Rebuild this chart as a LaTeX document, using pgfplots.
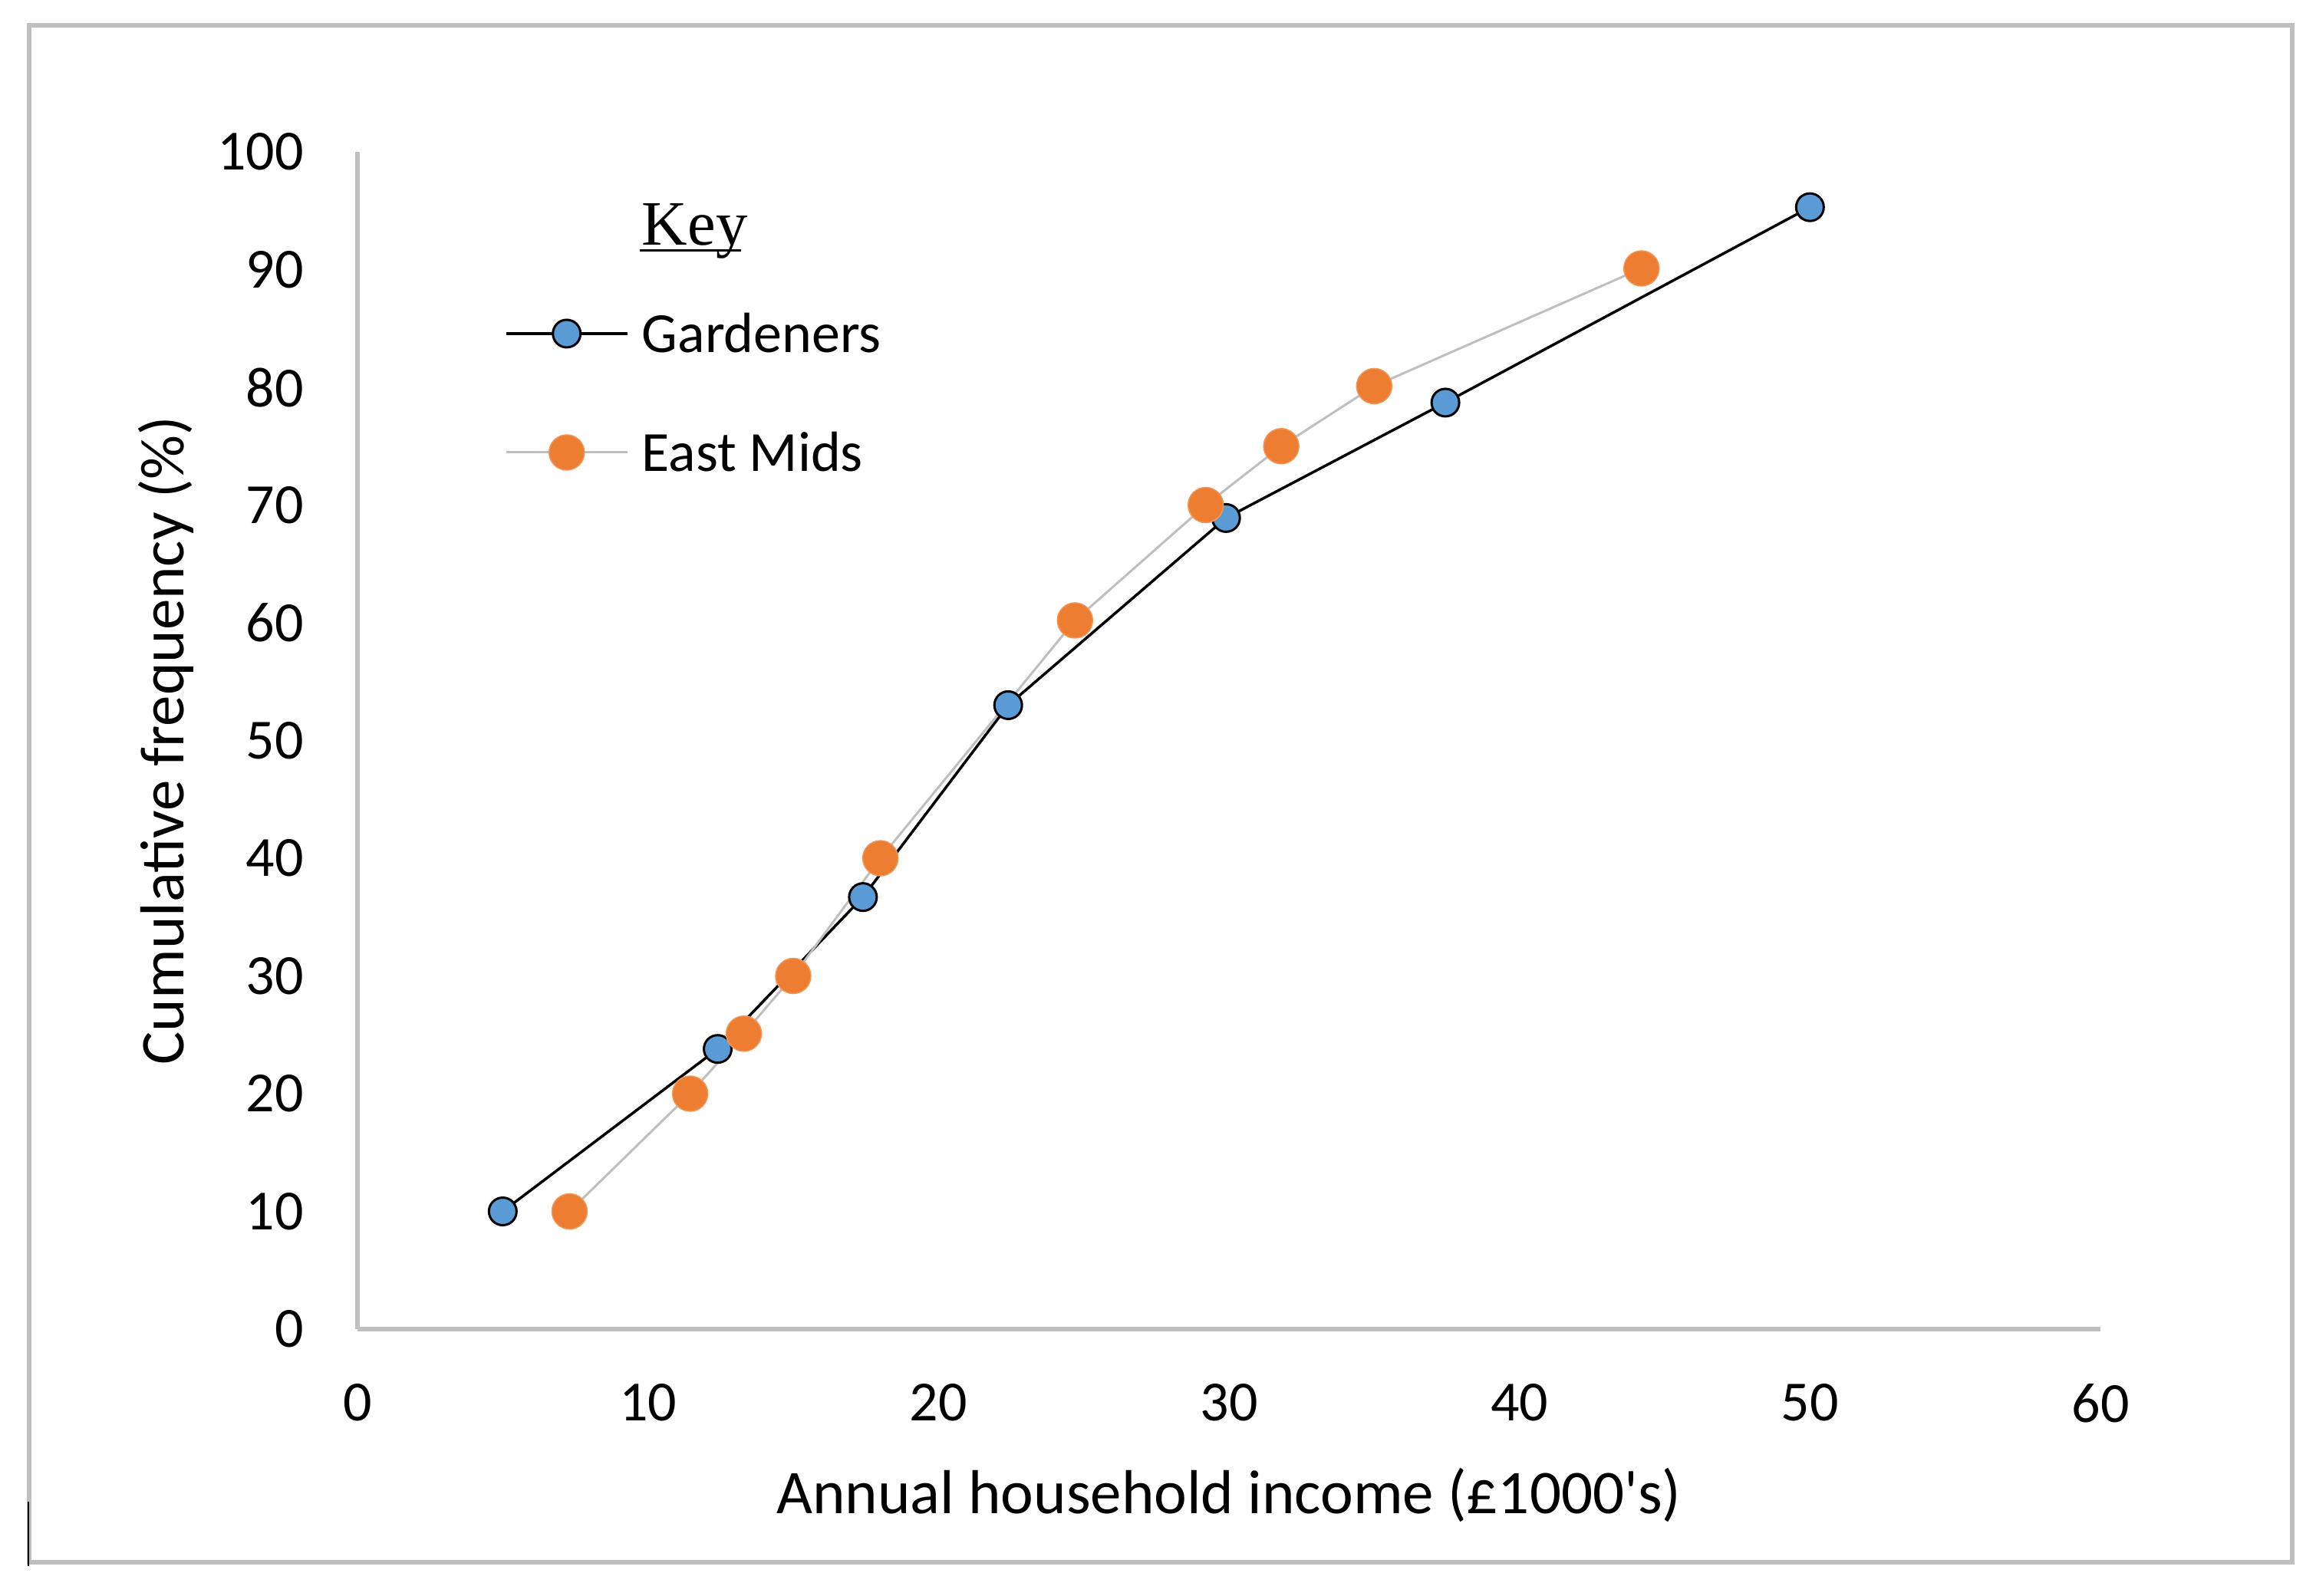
\documentclass[border=0pt]{standalone}
\usepackage{pgfplots}
\pgfplotsset{compat=1.18}
\usepackage{fontspec}
\setmainfont{Carlito}
\newfontfamily\keyfont{Liberation Serif}
\definecolor{gblue}{HTML}{5B9BD5}
\definecolor{eorange}{HTML}{ED7D31}
\definecolor{lgray}{HTML}{BFBFBF}
\newcommand\lblfont{\fontsize{14.8}{17}\selectfont}
\newcommand\ttlfont{\fontsize{16.2}{19}\selectfont}
\begin{document}
\begin{tikzpicture}
\path (-93.2pt,-69.4pt) rectangle (510.6pt,346.6pt);
\begin{axis}[
  at={(0pt,0pt)}, anchor=south west,
  scale only axis, width=454.4pt, height=307pt,
  xmin=0, xmax=60, ymin=0, ymax=100,
  xtick={0,10,...,60}, ytick={0,10,...,100},
  axis x line*=bottom, axis y line*=left,
  every inner x axis line/.append style={-},
  every inner y axis line/.append style={-},
  every outer x axis line/.append style={-},
  every outer y axis line/.append style={-},
  axis line style={draw=lgray, line width=1.2pt, -},
  major tick length=0pt,
  /pgf/number format/assume math mode=true,
  ticklabel style={font=\lblfont, text=black},
  xticklabel style={anchor=north, inner sep=0pt, yshift=-14pt},
  yticklabel style={anchor=east, inner sep=0pt, xshift=-13.8pt},
  xlabel={Annual household income (£1000\textquotesingle s)},
  ylabel={Cumulative frequency (\%)},
  label style={font=\ttlfont},
  xlabel style={at={(axis description cs:0.5,-0.1564)}, anchor=base, inner sep=0pt},
  ylabel style={at={(axis description cs:-0.0999,0.5)}, anchor=base, inner sep=0pt},
  clip=false,
  legend cell align=left,
  legend style={draw=none, fill=none, at={(axis cs:5.07,96.29)}, anchor=north west,
    inner sep=0pt, outer sep=0pt, row sep=21pt, column sep=3.5pt, font=\lblfont,
    nodes={inner sep=0pt, text height=10pt, text depth=0pt}},
  legend image code/.code={\draw[mark repeat=2,mark phase=2,#1] plot coordinates {(0pt,0pt) (15.8pt,0pt) (31.6pt,0pt)};},
]
\addlegendimage{empty legend}
\addlegendentry{\raisebox{-3.0pt}{\keyfont\fontsize{16.5}{18}\selectfont\rlap{\hspace{-0.6pt}\rule[-1.6pt]{26.4pt}{0.55pt}}Key}}
\addplot[black, line width=0.7pt, mark=*, mark size=3.6pt, mark options={fill=gblue, draw=black, line width=0.6pt}] coordinates {
(5,10) (12.4,23.8) (17.4,36.7) (22.4,53) (29.9,68.9) (37.45,78.7) (50,95.3)
};
\addlegendentry{Gardeners}
\addplot[lgray, line width=0.6pt, mark=*, mark size=4.6pt, mark options={fill=eorange, draw=eorange!80!white, line width=0.3pt}] coordinates {
(7.3,10) (11.45,20) (13.3,25.1) (15,30) (18,40) (24.7,60.2) (29.2,70) (31.8,75) (35,80.1) (44.2,90.1)
};
\addlegendentry{East Mids}
\end{axis}
\draw[lgray, line width=1.1pt] (-85.6pt,-60.8pt) rectangle (504.4pt,340pt);
\draw[black, line width=0.4pt] (-85.8pt,-45pt) -- (-85.8pt,-61.8pt);
\end{tikzpicture}
\end{document}
